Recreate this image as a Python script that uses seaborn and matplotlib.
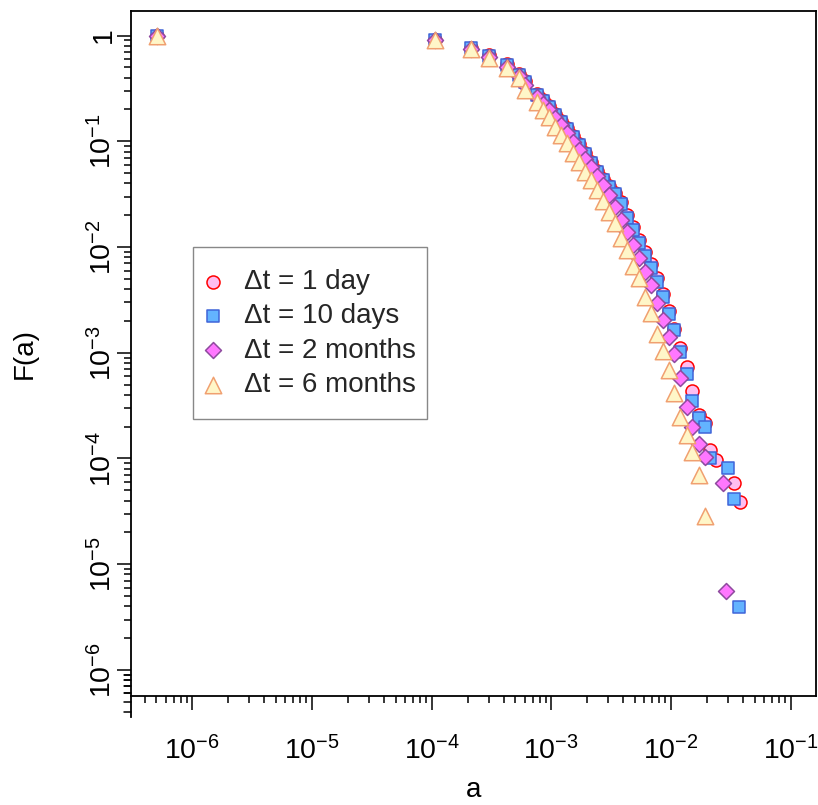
import numpy as np
import matplotlib
matplotlib.use("Agg")
import matplotlib.pyplot as plt
from matplotlib.ticker import LogLocator, NullFormatter
from matplotlib.patches import Rectangle
import seaborn as sns

# values: a (x) and F(a) (y) for each window
a_1day = [5.05e-7, 1.07e-4, 2.14e-4, 3.02e-4, 4.27e-4, 5.37e-4, 6.03e-4, 7.59e-4, 8.51e-4, 9.55e-4,
          1.07e-3, 1.20e-3, 1.35e-3, 1.51e-3, 1.70e-3, 1.91e-3, 2.14e-3, 2.40e-3, 2.69e-3, 3.02e-3,
          3.39e-3, 3.80e-3, 4.27e-3, 4.79e-3, 5.37e-3, 6.03e-3, 6.76e-3, 7.59e-3, 8.51e-3, 9.55e-3,
          1.07e-2, 1.20e-2, 1.35e-2, 1.51e-2, 1.70e-2, 1.91e-2, 2.14e-2, 2.40e-2, 3.39e-2, 3.80e-2]
F_1day = [1.0, 0.911, 0.765, 0.654, 0.540, 0.434, 0.373, 0.281, 0.2464, 0.2162,
          0.1816, 0.1560, 0.1339, 0.1125, 0.0945, 0.0777, 0.0638, 0.0525, 0.0441, 0.0378,
          0.0325, 0.0267, 0.0201, 0.0155, 0.01167, 0.00899, 0.00692, 0.00510, 0.00360, 0.00249,
          0.00168, 0.00111, 7.34e-4, 4.35e-4, 2.58e-4, 2.17e-4, 1.20e-4, 9.68e-5, 5.86e-5, 3.88e-5]

a_10days = [5.05e-7, 1.07e-4, 2.14e-4, 3.02e-4, 4.27e-4, 5.37e-4, 6.03e-4, 7.59e-4, 8.51e-4, 9.55e-4,
            1.07e-3, 1.20e-3, 1.35e-3, 1.51e-3, 1.70e-3, 1.91e-3, 2.14e-3, 2.40e-3, 2.69e-3, 3.02e-3,
            3.39e-3, 3.80e-3, 4.27e-3, 4.79e-3, 5.37e-3, 6.03e-3, 6.76e-3, 7.59e-3, 8.51e-3, 9.55e-3,
            1.07e-2, 1.20e-2, 1.35e-2, 1.51e-2, 1.70e-2, 1.91e-2, 2.14e-2, 3.02e-2, 3.37e-2, 3.69e-2]
F_10days = [1.0, 0.911, 0.765, 0.642, 0.528, 0.425, 0.365, 0.275, 0.241, 0.2116,
            0.1778, 0.1526, 0.1310, 0.1100, 0.0924, 0.0760, 0.0625, 0.0513, 0.0431, 0.0370,
            0.0318, 0.0256, 0.01884, 0.01452, 0.01093, 0.00824, 0.00634, 0.00467, 0.00337, 0.00233,
            0.00164, 0.00102, 6.30e-4, 3.50e-4, 2.42e-4, 1.99e-4, 1.01e-4, 8.08e-5, 4.14e-5, 3.96e-6]

a_2months = [5.05e-7, 1.07e-4, 2.14e-4, 3.02e-4, 4.27e-4, 5.37e-4, 6.03e-4, 7.59e-4, 8.51e-4, 9.55e-4,
             1.07e-3, 1.20e-3, 1.35e-3, 1.51e-3, 1.70e-3, 1.91e-3, 2.14e-3, 2.40e-3, 2.69e-3, 3.02e-3,
             3.39e-3, 3.80e-3, 4.27e-3, 4.79e-3, 5.37e-3, 6.03e-3, 6.76e-3, 7.59e-3, 8.51e-3, 9.55e-3,
             1.07e-2, 1.20e-2, 1.35e-2, 1.51e-2, 1.70e-2, 1.91e-2, 2.70e-2, 2.88e-2]
F_2months = [1.0, 0.911, 0.748, 0.629, 0.506, 0.416, 0.342, 0.263, 0.2258, 0.1982,
             0.1665, 0.1429, 0.1201, 0.0987, 0.0829, 0.0682, 0.0572, 0.0471, 0.0387, 0.0311,
             0.0241, 0.01805, 0.01398, 0.01047, 0.00783, 0.00585, 0.00438, 0.00298, 0.00204, 0.00141,
             9.74e-4, 5.78e-4, 3.09e-4, 1.99e-4, 1.37e-4, 1.03e-4, 5.83e-5, 5.61e-6]

a_6months = [5.05e-7, 1.07e-4, 2.14e-4, 3.02e-4, 4.27e-4, 5.37e-4, 6.03e-4, 7.59e-4, 8.51e-4, 9.55e-4,
             1.07e-3, 1.20e-3, 1.35e-3, 1.51e-3, 1.70e-3, 1.91e-3, 2.14e-3, 2.40e-3, 2.69e-3, 3.02e-3,
             3.39e-3, 3.80e-3, 4.27e-3, 4.79e-3, 5.37e-3, 6.03e-3, 6.76e-3, 7.59e-3, 8.51e-3, 9.55e-3,
             1.07e-2, 1.20e-2, 1.35e-2, 1.51e-2, 1.70e-2, 1.91e-2]
F_6months = [1.0, 0.91, 0.748, 0.615, 0.495, 0.398, 0.306, 0.238, 0.198, 0.171,
             0.138, 0.115, 0.0966, 0.0777, 0.0643, 0.0517, 0.0431, 0.0347, 0.0275, 0.0215,
             0.0168, 0.0121, 0.0094, 0.00662, 0.00507, 0.00340, 0.00237, 0.00149, 0.00105, 6.8e-4,
             4.14e-4, 2.45e-4, 1.67e-4, 1.16e-4, 6.98e-5, 2.88e-5]

labels = ["Δt = 1 day", "Δt = 10 days", "Δt = 2 months", "Δt = 6 months"]
xticks = [1e-6, 1e-5, 1e-4, 1e-3, 1e-2, 1e-1]
xtick_labels = ["$10^{-6}$", "$10^{-5}$", "$10^{-4}$", "$10^{-3}$", "$10^{-2}$", "$10^{-1}$"]
yticks = [1e-6, 1e-5, 1e-4, 1e-3, 1e-2, 1e-1, 1]
ytick_labels = ["$10^{-6}$", "$10^{-5}$", "$10^{-4}$", "$10^{-3}$", "$10^{-2}$", "$10^{-1}$", "1"]

sns.set_theme(style="ticks")
plt.rcParams['font.family'] = ['Liberation Sans', 'DejaVu Sans']
plt.rcParams['mathtext.fontset'] = 'custom'
plt.rcParams['mathtext.rm'] = 'Liberation Sans'
plt.rcParams['mathtext.it'] = 'Liberation Sans:italic'
plt.rcParams['mathtext.bf'] = 'Liberation Sans:bold'

fig = plt.figure(figsize=(8.18, 8.05), dpi=100)
ax = fig.add_axes([131/818, 109/805, 685/818, 685.3/805])

series = [
    (a_1day, F_1day, labels[0], 'o', '#FFBEF0', '#FF0000', 88),
    (a_10days, F_10days, labels[1], 's', '#63B3FF', '#3F64D8', 74),
    (a_2months, F_2months, labels[2], 'D', '#FF77FF', '#8E4A9E', 66),
    (a_6months, F_6months, labels[3], '^', '#FFF6C8', '#F0A070', 140),
]
for a, F, lab, m, fc, ec, s in series:
    sns.scatterplot(x=a, y=F, ax=ax, marker=m, color=fc, edgecolor=ec,
                    linewidth=1.1, s=s, label=lab)

ax.set_xscale('log')
ax.set_yscale('log')
ax.set_xlim(3.08e-7, 0.163)
ax.set_ylim(5.67e-7, 1.72)

ax.set_xticks(xticks, xtick_labels)
ax.set_yticks(yticks, ytick_labels)
for axis in (ax.xaxis, ax.yaxis):
    axis.set_minor_locator(LogLocator(base=10, subs=np.arange(2, 10), numticks=30))
    axis.set_minor_formatter(NullFormatter())

ax.tick_params(which='major', direction='out', length=10, width=1.1, labelsize=20.5,
               color='black', labelcolor='black')
ax.tick_params(which='minor', direction='out', length=5, width=1.1, color='black')
ax.tick_params(axis='x', which='major', pad=19)
ax.tick_params(axis='y', which='major', pad=0, labelrotation=90)
for t in ax.get_yticklabels():
    t.set_va('center')

for sp in ax.spines.values():
    sp.set_color('black')
    sp.set_linewidth(1.3)
# the left axis line runs on below the frame, with its minor ticks
ax.spines['left'].set_bounds(3.6e-7, 1.72)
for v in [9e-7, 8e-7, 7e-7, 6e-7, 5e-7, 4e-7]:
    ax.plot([-5/685*1.389, 0], [v, v], transform=ax.get_yaxis_transform(),
            color='black', lw=1.1, clip_on=False)

ax.set_xlabel('a', fontsize=20, color='black', labelpad=8)
ax.set_ylabel('F(a)', fontsize=20, color='black', labelpad=36)

# legend entries without their own frame; the grey box is drawn on its own
leg = ax.legend(loc='upper left', bbox_to_anchor=(202/818, 1 - 269/805),
                bbox_transform=fig.transFigure, frameon=False, fontsize=20,
                borderaxespad=0, borderpad=0, handletextpad=0.72,
                labelspacing=0.3, handlelength=0.8)
fig.patches.append(Rectangle((193/818, 1 - 419/805), 234/818, 172/805,
                             transform=fig.transFigure, fill=False,
                             edgecolor='#888888', lw=1.0))

fig.savefig('out.png', dpi=100, facecolor='white')
